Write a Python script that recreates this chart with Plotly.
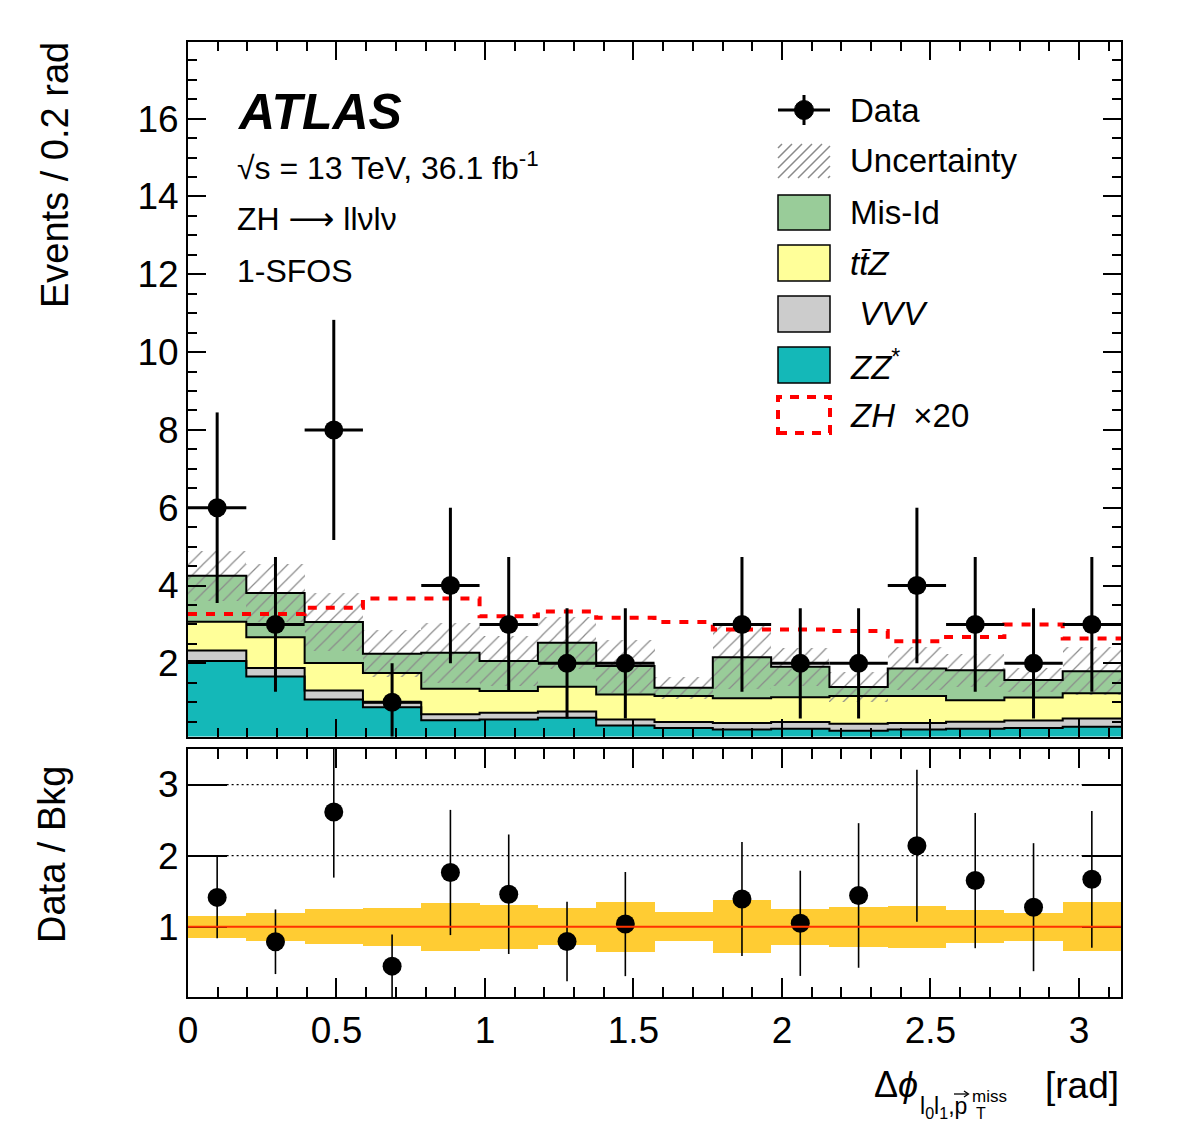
import numpy as np
import plotly.graph_objects as go

W, H = 1182, 1134

# ---------------- data (16 bins of pi/16 over [0, pi]) ----------------
zz     = [2.06, 1.66, 1.07, 0.87, 0.54, 0.56, 0.60, 0.40, 0.34, 0.30, 0.32, 0.27, 0.30, 0.32, 0.34, 0.37]
vvv    = [0.27, 0.22, 0.23, 0.13, 0.15, 0.17, 0.16, 0.16, 0.15, 0.17, 0.17, 0.18, 0.17, 0.18, 0.19, 0.21]
ttz    = [0.74, 0.79, 0.71, 0.75, 0.66, 0.56, 0.64, 0.64, 0.67, 0.63, 0.64, 0.71, 0.69, 0.55, 0.59, 0.65]
misid  = [1.18, 1.14, 1.05, 0.50, 0.92, 0.77, 1.13, 0.73, 0.21, 1.06, 0.78, 0.23, 0.71, 0.77, 0.45, 0.57]
unc    = [0.65, 0.75, 0.75, 0.60, 0.77, 0.64, 0.67, 0.68, 0.28, 0.81, 0.48, 0.39, 0.55, 0.42, 0.31, 0.62]
zh_x20 = [3.27, 3.27, 3.43, 3.67, 3.67, 3.21, 3.33, 3.17, 3.06, 2.87, 2.87, 2.83, 2.57, 2.68, 3.00, 2.64]
data   = [6, 3, 8, 1, 4, 3, 2, 2, 0, 3, 2, 2, 4, 3, 2, 3]

x_ticks = [0, 0.5, 1, 1.5, 2, 2.5, 3]
x_tick_text = ["0", "0.5", "1", "1.5", "2", "2.5", "3"]

nb = len(data)
edges = np.arange(nb + 1) * np.pi / nb
centers = 0.5 * (edges[:-1] + edges[1:])
bw = np.pi / nb

zz_a, vvv_a, ttz_a, mis_a = map(np.array, (zz, vvv, ttz, misid))
unc_a = np.array(unc)
data_a = np.array(data, dtype=float)

top_zz = zz_a
top_vvv = top_zz + vvv_a
top_ttz = top_vvv + ttz_a
total = top_ttz + mis_a

FONT = "Liberation Sans"

fig = go.Figure()

def px(x):
    return x / W

def py(y):
    return 1 - y / H

# ---------------- stacked backgrounds ----------------
stack = [
    (zz_a, np.zeros(nb), "#14b8b8"),
    (vvv_a, top_zz, "#cccccc"),
    (ttz_a, top_vvv, "#ffff99"),
    (mis_a, top_ttz, "#99cc99"),
]
for vals, base, col in stack:
    fig.add_trace(go.Bar(x=centers, y=vals, base=base, width=bw,
                         marker=dict(color=col, line=dict(width=0)),
                         opacity=1, showlegend=False, xaxis="x", yaxis="y"))

# uncertainty hatch
fig.add_trace(go.Bar(x=centers, y=2 * unc_a, base=total - unc_a, width=bw,
                     marker=dict(color="rgba(0,0,0,0)", line=dict(width=0),
                                 pattern=dict(shape="/", fgcolor="#8a8a8a",
                                              size=10, solidity=0.12, fillmode="replace")),
                     showlegend=False, xaxis="x", yaxis="y"))

# outlines
for tops in (top_zz, top_vvv, top_ttz, total):
    fig.add_trace(go.Scatter(x=edges, y=np.append(tops, tops[-1]), mode="lines",
                             line=dict(shape="hv", color="black", width=2),
                             showlegend=False, xaxis="x", yaxis="y"))

# ZH x20 dashed
zh_a = np.array(zh_x20)
fig.add_trace(go.Scatter(x=edges, y=np.append(zh_a, zh_a[-1]), mode="lines",
                         line=dict(shape="hv", color="#ff0000", width=4, dash="9px,9px"),
                         showlegend=False, xaxis="x", yaxis="y"))

# data
mask = data_a > 0
fig.add_trace(go.Scatter(x=centers[mask], y=data_a[mask], mode="markers",
                         marker=dict(size=19, color="black"),
                         error_y=dict(type="data", array=np.sqrt(data_a[mask]),
                                      thickness=3, width=0, color="black"),
                         error_x=dict(type="constant", value=bw / 2,
                                      thickness=3, width=0, color="black"),
                         showlegend=False, xaxis="x", yaxis="y"))

# ---------------- ratio panel ----------------
rel = unc_a / total
fig.add_trace(go.Bar(x=centers, y=2 * rel, base=1 - rel, width=bw,
                     marker=dict(color="#ffcc33", line=dict(width=0)), opacity=1,
                     showlegend=False, xaxis="x2", yaxis="y2"))
ratio = data_a / total
ratio_err = np.sqrt(data_a) / total
fig.add_trace(go.Scatter(x=centers[mask], y=ratio[mask], mode="markers",
                         marker=dict(size=19, color="black"),
                         error_y=dict(type="data", array=ratio_err[mask],
                                      thickness=1.6, width=0, color="black"),
                         showlegend=False, xaxis="x2", yaxis="y2"))

shapes = []
shapes.append(dict(type="line", xref="x2", yref="y2", x0=0, x1=np.pi, y0=1, y1=1,
                   line=dict(color="#ff3300", width=2), layer="above"))
for yv in (2, 3):
    shapes.append(dict(type="line", xref="x2", yref="y2", x0=0.13, x1=np.pi - 0.13,
                       y0=yv, y1=yv, line=dict(color="black", width=1.3, dash="2px,3px"),
                       layer="below"))

# ---------------- axes ----------------
xd = [188 / W, 1121 / W]
common = dict(showline=True, linewidth=2, linecolor="black", mirror="allticks",
              ticks="inside", tickwidth=2, tickcolor="black", showgrid=False,
              zeroline=False, automargin=False)

layout = dict(
    template="none",
    width=W, height=H, margin=dict(l=0, r=0, t=0, b=0, pad=0, autoexpand=False),
    paper_bgcolor="white", plot_bgcolor="white",
    barmode="overlay", bargap=0, showlegend=False,
    font=dict(family=FONT, color="black"),
    xaxis=dict(domain=xd, range=[0, np.pi], anchor="y", showticklabels=False,
               tickmode="array", tickvals=x_ticks, ticklen=18,
               minor=dict(tickmode="linear", tick0=0, dtick=0.1, ticklen=9,
                          tickwidth=2, tickcolor="black", ticks="inside"),
               **common),
    yaxis=dict(domain=[1 - 736.5 / H, 1 - 42 / H], range=[0.12, 17.97], anchor="x",
               tickmode="linear", tick0=0, dtick=2, ticklen=18,
               tickfont=dict(size=37),
               minor=dict(tickmode="linear", tick0=0, dtick=0.5, ticklen=9,
                          tickwidth=2, tickcolor="black", ticks="inside"),
               **common),
    xaxis2=dict(domain=xd, range=[0, np.pi], anchor="y2",
                tickmode="array", tickvals=x_ticks, ticktext=x_tick_text, ticklen=19,
                tickfont=dict(size=37),
                minor=dict(tickmode="linear", tick0=0, dtick=0.1, ticklen=10,
                           tickwidth=2, tickcolor="black", ticks="inside"),
                **common),
    yaxis2=dict(domain=[1 - 997 / H, 1 - 749 / H], range=[0.01, 3.5], anchor="x2",
                tickmode="array", tickvals=[1, 2, 3], ticklen=39,
                tickfont=dict(size=37), **common),
)

# ---------------- legend (drawn) ----------------
LX0, LX1 = 778, 830
shapes.append(dict(type="line", xref="paper", yref="paper", x0=px(LX0), x1=px(LX1),
                   y0=py(110), y1=py(110), line=dict(color="black", width=3)))
shapes.append(dict(type="line", xref="paper", yref="paper", x0=px(804), x1=px(804),
                   y0=py(95), y1=py(125), line=dict(color="black", width=3)))
shapes.append(dict(type="circle", xref="paper", yref="paper", x0=px(804 - 9.5), x1=px(804 + 9.5),
                   y0=py(110 + 9.5), y1=py(110 - 9.5), fillcolor="black",
                   line=dict(color="black", width=1)))

# hatch box
hx0, hx1, hy0, hy1 = LX0, LX1, 144, 178
path = ""
c = hx0 + hy0 + 4
while c < hx1 + hy1:
    xa = max(hx0, c - hy1)
    xb = min(hx1, c - hy0)
    if xb > xa:
        path += f"M{px(xa):.5f},{py(c - xa):.5f} L{px(xb):.5f},{py(c - xb):.5f} "
    c += 10
shapes.append(dict(type="path", xref="paper", yref="paper", path=path,
                   line=dict(color="#8a8a8a", width=1.5)))

boxes = [(195, 230, "#99cc99"), (245, 281, "#ffff99"), (296, 332, "#cccccc"), (347, 383, "#14b8b8")]
for y0, y1, col in boxes:
    shapes.append(dict(type="rect", xref="paper", yref="paper", x0=px(LX0), x1=px(LX1),
                       y0=py(y1), y1=py(y0), fillcolor=col, line=dict(color="black", width=1.5)))
shapes.append(dict(type="rect", xref="paper", yref="paper", x0=px(LX0), x1=px(LX1),
                   y0=py(433), y1=py(397), fillcolor="rgba(0,0,0,0)",
                   line=dict(color="#ff0000", width=4, dash="9px,8px")))

# vector arrow above p in the x-axis title
shapes.append(dict(type="line", xref="paper", yref="paper", x0=px(954), x1=px(968),
                   y0=py(1094), y1=py(1094), line=dict(color="black", width=1.3)))
shapes.append(dict(type="path", xref="paper", yref="paper",
                   path=f"M{px(964):.5f},{py(1091):.5f} L{px(968.5):.5f},{py(1094):.5f} L{px(964):.5f},{py(1097):.5f}",
                   line=dict(color="black", width=1.3)))

annotations = []
def txt(text, x, y, size, xanchor="left", yanchor="middle", angle=0, family=FONT):
    annotations.append(dict(text=text, x=px(x), y=py(y), xref="paper", yref="paper",
                            xanchor=xanchor, yanchor=yanchor, showarrow=False,
                            textangle=angle, font=dict(size=size, family=family, color="black")))

leg = [("Data", 110), ("Uncertainty", 161), ("Mis-Id", 212), ("<i>tt̄Z</i>", 263),
       ("<i> VVV</i>", 314), ("<i>ZZ</i><sup>*</sup>", 365), ("<i>ZH</i>  ×20", 415)]
for t, y in leg:
    txt(t, 848, y, 33)

txt("<b><i>ATLAS</i></b>", 235, 112, 50)
txt("√s = 13 TeV, 36.1 fb<sup>-1</sup>", 235, 166, 32)
txt("ZH <span style='font-family:DejaVu Sans'>⟶</span> llνlν", 235, 219, 32)
txt("1-SFOS", 235, 271, 32)

txt("Events / 0.2 rad", 55, 40, 38, xanchor="center", yanchor="top", angle=-90)
txt("Data / Bkg", 52, 855, 38, xanchor="center", yanchor="middle", angle=-90)

txt("Δ<i>ϕ</i>", 872, 1084, 36)
txt("l<sub>0</sub>l<sub>1</sub>,p", 918, 1107, 23)
txt("miss", 970, 1096, 17)
txt("T", 974, 1113, 16)
txt("[rad]", 1121, 1085, 37, xanchor="right")

layout["shapes"] = shapes
layout["annotations"] = annotations
fig.update_layout(**layout)

fig.write_html("out.html")
